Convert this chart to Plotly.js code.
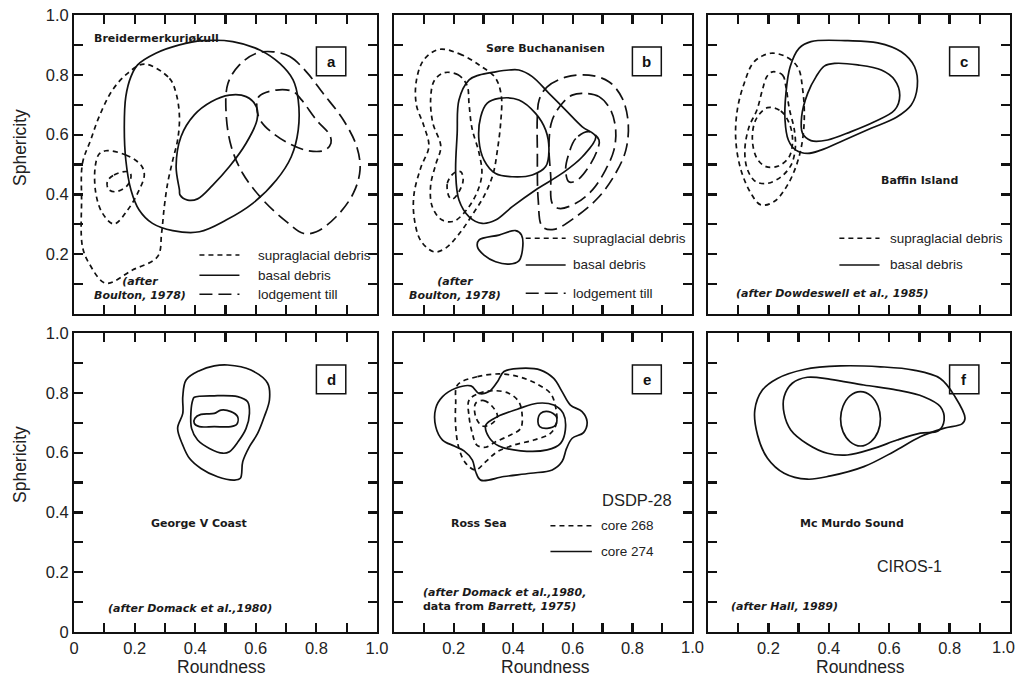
<!DOCTYPE html>
<html><head><meta charset="utf-8">
<script src="https://cdn.plot.ly/plotly-3.0.1.min.js"></script>
<style>html,body{margin:0;padding:0;background:#fff}#chart{width:1018px;height:678px}</style>
</head><body><div id="chart"></div>
<script>
// ---------- tick values and labels ----------
const tickVals = [0,0.1,0.2,0.3,0.4,0.5,0.6,0.7,0.8,0.9,1.0];
const yLabelsTop = ['','','0.2','','0.4','','0.6','','0.8','','1.0'];
const yLabelsBottom = ['0','','0.2','','0.4','','0.6','','0.8','','1.0'];
const xLabelsD = ['0','','0.2','','0.4','','0.6','','0.8','','1.0'];
const xLabelsEF = ['','','0.2','','0.4','','0.6','','0.8','',''];
const noLabels = ['','','','','','','','','','',''];

// ---------- panel a: Breidermerkurjokull ----------
const aSupraOuter = [[0.232,0.836],[0.315,0.788],[0.337,0.738],[0.348,0.660],[0.342,0.582],[0.326,0.515],[0.309,0.437],[0.298,0.359],[0.289,0.270],[0.276,0.192],[0.193,0.147],[0.105,0.103],[0.050,0.169],[0.028,0.225],[0.025,0.381],[0.028,0.504],[0.055,0.582],[0.083,0.660],[0.127,0.749],[0.177,0.805]];
const aSupraMid = [[0.105,0.546],[0.171,0.532],[0.221,0.498],[0.232,0.465],[0.210,0.404],[0.177,0.348],[0.132,0.301],[0.094,0.337],[0.072,0.404],[0.070,0.493],[0.083,0.535]];
const aSupraInner = [[0.110,0.443],[0.132,0.465],[0.177,0.476],[0.188,0.465],[0.177,0.431],[0.138,0.409],[0.114,0.417]];
const aBasalOuter = [[0.210,0.833],[0.270,0.872],[0.348,0.900],[0.425,0.914],[0.524,0.911],[0.613,0.883],[0.679,0.838],[0.723,0.783],[0.740,0.716],[0.740,0.615],[0.717,0.526],[0.668,0.448],[0.590,0.370],[0.502,0.314],[0.414,0.275],[0.326,0.279],[0.259,0.303],[0.215,0.348],[0.188,0.415],[0.171,0.515],[0.166,0.627],[0.171,0.727],[0.188,0.794]];
const aBasalInner = [[0.348,0.415],[0.337,0.493],[0.353,0.593],[0.397,0.666],[0.453,0.710],[0.513,0.732],[0.568,0.727],[0.602,0.693],[0.604,0.649],[0.568,0.571],[0.513,0.493],[0.458,0.431],[0.408,0.385],[0.375,0.381],[0.350,0.398]];
const aLodgeOuter = [[0.657,0.877],[0.712,0.861],[0.767,0.810],[0.822,0.738],[0.889,0.649],[0.933,0.560],[0.944,0.482],[0.922,0.404],[0.866,0.326],[0.800,0.275],[0.756,0.270],[0.701,0.309],[0.624,0.381],[0.557,0.470],[0.519,0.560],[0.502,0.671],[0.508,0.771],[0.546,0.833],[0.602,0.872]];
const aLodgeInner = [[0.610,0.727],[0.668,0.749],[0.723,0.744],[0.751,0.716],[0.800,0.649],[0.844,0.599],[0.848,0.571],[0.828,0.548],[0.773,0.546],[0.712,0.569],[0.657,0.604],[0.618,0.643],[0.604,0.682]];

// ---------- panel b: Sore Buchananisen ----------
const bSupraOuter = [[0.151,0.885],[0.220,0.870],[0.290,0.830],[0.340,0.790],[0.360,0.730],[0.358,0.640],[0.347,0.548],[0.333,0.470],[0.305,0.400],[0.265,0.335],[0.220,0.270],[0.173,0.220],[0.134,0.208],[0.090,0.245],[0.068,0.320],[0.067,0.400],[0.090,0.490],[0.117,0.560],[0.100,0.630],[0.075,0.700],[0.075,0.780],[0.100,0.850]];
const bSupraMid = [[0.168,0.807],[0.215,0.800],[0.245,0.765],[0.252,0.700],[0.262,0.620],[0.285,0.540],[0.295,0.470],[0.280,0.410],[0.245,0.350],[0.200,0.310],[0.160,0.315],[0.128,0.360],[0.123,0.430],[0.140,0.500],[0.157,0.560],[0.130,0.640],[0.123,0.720],[0.135,0.780]];
const bSupraInner = [[0.185,0.392],[0.179,0.437],[0.201,0.471],[0.224,0.476],[0.232,0.448],[0.218,0.409],[0.196,0.384]];
const bBasalOuter = [[0.386,0.816],[0.419,0.816],[0.464,0.794],[0.520,0.738],[0.576,0.682],[0.632,0.626],[0.677,0.593],[0.632,0.526],[0.565,0.471],[0.475,0.415],[0.397,0.359],[0.341,0.314],[0.296,0.303],[0.252,0.325],[0.218,0.381],[0.207,0.471],[0.212,0.604],[0.218,0.716],[0.252,0.783],[0.285,0.799],[0.341,0.810]];
const bBasalInner = [[0.352,0.721],[0.419,0.716],[0.475,0.671],[0.509,0.615],[0.520,0.548],[0.509,0.493],[0.464,0.465],[0.397,0.459],[0.341,0.470],[0.302,0.515],[0.285,0.582],[0.291,0.660],[0.313,0.705]];
const bBasalBlob = [[0.285,0.247],[0.352,0.264],[0.408,0.279],[0.428,0.264],[0.431,0.214],[0.419,0.178],[0.386,0.167],[0.341,0.175],[0.302,0.197],[0.280,0.225]];
const bLodgeOuter = [[0.487,0.716],[0.514,0.760],[0.576,0.792],[0.654,0.799],[0.721,0.777],[0.766,0.721],[0.786,0.638],[0.778,0.548],[0.744,0.471],[0.688,0.392],[0.610,0.325],[0.537,0.283],[0.498,0.292],[0.484,0.381],[0.481,0.548],[0.481,0.660]];
const bLodgeMid = [[0.632,0.738],[0.688,0.727],[0.727,0.682],[0.744,0.615],[0.738,0.548],[0.710,0.482],[0.666,0.415],[0.610,0.370],[0.554,0.353],[0.531,0.370],[0.526,0.459],[0.520,0.571],[0.531,0.649],[0.565,0.705],[0.598,0.732]];
const bLodgeInner = [[0.654,0.610],[0.610,0.587],[0.587,0.537],[0.576,0.482],[0.587,0.442],[0.615,0.448],[0.654,0.493],[0.682,0.548],[0.688,0.582]];

// ---------- panel c: Baffin Island ----------
const cBasalOuter = [[0.341,0.911],[0.463,0.914],[0.562,0.907],[0.640,0.877],[0.684,0.827],[0.693,0.760],[0.673,0.699],[0.624,0.658],[0.540,0.621],[0.452,0.582],[0.374,0.548],[0.330,0.537],[0.291,0.548],[0.266,0.582],[0.255,0.649],[0.258,0.738],[0.272,0.827],[0.302,0.889]];
const cBasalInner = [[0.385,0.829],[0.419,0.838],[0.496,0.833],[0.574,0.816],[0.618,0.783],[0.635,0.732],[0.618,0.682],[0.551,0.643],[0.474,0.610],[0.396,0.582],[0.341,0.580],[0.313,0.604],[0.310,0.660],[0.330,0.738],[0.358,0.794]];
const cSupraOuter = [[0.208,0.872],[0.263,0.858],[0.299,0.822],[0.313,0.755],[0.319,0.671],[0.313,0.582],[0.295,0.504],[0.263,0.431],[0.219,0.376],[0.175,0.365],[0.142,0.404],[0.109,0.482],[0.092,0.582],[0.097,0.682],[0.120,0.772],[0.153,0.844]];
const cSupraMid = [[0.214,0.810],[0.247,0.799],[0.258,0.760],[0.269,0.688],[0.286,0.615],[0.289,0.554],[0.275,0.498],[0.242,0.459],[0.197,0.437],[0.158,0.443],[0.131,0.482],[0.122,0.548],[0.136,0.626],[0.162,0.682],[0.180,0.749],[0.195,0.794]];
const cSupraInner = [[0.197,0.690],[0.241,0.679],[0.269,0.638],[0.280,0.582],[0.269,0.526],[0.233,0.495],[0.192,0.493],[0.162,0.521],[0.147,0.582],[0.158,0.649]];

// ---------- panel d: George V Coast ----------
const dOuter = [[0.507,0.893],[0.584,0.876],[0.639,0.832],[0.645,0.776],[0.628,0.720],[0.606,0.664],[0.579,0.620],[0.557,0.570],[0.549,0.514],[0.529,0.508],[0.474,0.519],[0.419,0.547],[0.381,0.581],[0.359,0.625],[0.342,0.681],[0.359,0.731],[0.359,0.787],[0.370,0.843],[0.414,0.874],[0.463,0.890]];
const dMid = [[0.397,0.785],[0.463,0.790],[0.540,0.787],[0.573,0.770],[0.579,0.731],[0.568,0.681],[0.542,0.637],[0.513,0.603],[0.491,0.598],[0.447,0.614],[0.408,0.642],[0.388,0.681],[0.386,0.737],[0.392,0.776]];
const dInner = [[0.399,0.715],[0.419,0.728],[0.463,0.731],[0.485,0.742],[0.518,0.737],[0.540,0.720],[0.538,0.696],[0.518,0.687],[0.463,0.687],[0.414,0.687],[0.397,0.698]];

// ---------- panel e: Ross Sea, DSDP-28 ----------
const e274Outer = [[0.369,0.871],[0.425,0.882],[0.492,0.876],[0.536,0.848],[0.564,0.804],[0.592,0.759],[0.631,0.737],[0.648,0.703],[0.636,0.667],[0.598,0.648],[0.579,0.614],[0.564,0.570],[0.531,0.542],[0.458,0.531],[0.369,0.520],[0.291,0.508],[0.274,0.536],[0.263,0.575],[0.235,0.606],[0.202,0.622],[0.163,0.642],[0.140,0.687],[0.140,0.748],[0.163,0.787],[0.207,0.815],[0.258,0.823],[0.285,0.798],[0.319,0.804],[0.347,0.837]];
const e274Mid = [[0.308,0.692],[0.347,0.720],[0.414,0.745],[0.481,0.765],[0.536,0.759],[0.568,0.731],[0.575,0.676],[0.559,0.631],[0.514,0.609],[0.425,0.606],[0.352,0.622],[0.319,0.651]];
const e274Inner = [[0.483,0.703],[0.492,0.731],[0.519,0.737],[0.545,0.720],[0.542,0.692],[0.514,0.681],[0.489,0.687]];
const e268Outer = [[0.213,0.826],[0.280,0.854],[0.358,0.863],[0.425,0.852],[0.481,0.829],[0.525,0.798],[0.542,0.754],[0.545,0.698],[0.525,0.664],[0.469,0.642],[0.402,0.625],[0.347,0.603],[0.308,0.570],[0.274,0.542],[0.241,0.564],[0.218,0.614],[0.207,0.687],[0.207,0.765]];
const e268Mid = [[0.252,0.776],[0.285,0.798],[0.335,0.807],[0.386,0.798],[0.419,0.770],[0.430,0.726],[0.425,0.681],[0.391,0.659],[0.341,0.636],[0.308,0.618],[0.278,0.625],[0.263,0.664],[0.252,0.720]];
const e268Inner = [[0.274,0.765],[0.302,0.774],[0.330,0.754],[0.347,0.722],[0.327,0.696],[0.297,0.689],[0.274,0.720]];

// ---------- panel f: Mc Murdo Sound, CIROS-1 ----------
const fOuter = [[0.155,0.742],[0.180,0.809],[0.230,0.848],[0.318,0.878],[0.439,0.890],[0.571,0.887],[0.681,0.876],[0.769,0.848],[0.818,0.787],[0.851,0.715],[0.841,0.696],[0.780,0.681],[0.703,0.653],[0.615,0.603],[0.516,0.553],[0.406,0.522],[0.329,0.511],[0.252,0.531],[0.197,0.581],[0.164,0.659]];
const fMid = [[0.252,0.787],[0.279,0.832],[0.329,0.852],[0.406,0.845],[0.516,0.826],[0.626,0.809],[0.714,0.787],[0.769,0.754],[0.782,0.709],[0.763,0.673],[0.703,0.665],[0.626,0.642],[0.549,0.614],[0.461,0.592],[0.395,0.598],[0.329,0.629],[0.274,0.676],[0.252,0.731]];
const fInner = [[0.505,0.804],[0.540,0.790],[0.563,0.755],[0.571,0.713],[0.563,0.670],[0.540,0.637],[0.505,0.622],[0.470,0.637],[0.447,0.670],[0.439,0.713],[0.447,0.755],[0.470,0.790]];

// ---------- styles ----------
const INK = '#111';
const SHORT = '5px,4px';
const LONG = '13px,6px';
const SOLID = 'solid';

const curves = [
  ['a', aSupraOuter, SHORT], ['a', aSupraMid, SHORT], ['a', aSupraInner, SHORT],
  ['a', aBasalOuter, SOLID], ['a', aBasalInner, SOLID],
  ['a', aLodgeOuter, LONG], ['a', aLodgeInner, LONG],
  ['b', bSupraOuter, SHORT], ['b', bSupraMid, SHORT], ['b', bSupraInner, SHORT],
  ['b', bBasalOuter, SOLID], ['b', bBasalInner, SOLID], ['b', bBasalBlob, SOLID],
  ['b', bLodgeOuter, LONG], ['b', bLodgeMid, LONG], ['b', bLodgeInner, LONG],
  ['c', cBasalOuter, SOLID], ['c', cBasalInner, SOLID],
  ['c', cSupraOuter, SHORT], ['c', cSupraMid, SHORT], ['c', cSupraInner, SHORT],
  ['d', dOuter, SOLID], ['d', dMid, SOLID], ['d', dInner, SOLID],
  ['e', e274Outer, SOLID], ['e', e274Mid, SOLID], ['e', e274Inner, SOLID],
  ['e', e268Outer, SHORT], ['e', e268Mid, SHORT], ['e', e268Inner, SHORT],
  ['f', fOuter, SOLID], ['f', fMid, SOLID], ['f', fInner, SOLID]
];

const axisIds = {a:['x','y'], b:['x2','y2'], c:['x3','y3'], d:['x4','y4'], e:['x5','y5'], f:['x6','y6']};

const traces = curves.map(([p, pts, dash]) => ({
  type: 'scatter', mode: 'lines',
  x: pts.map(q => q[0]).concat([pts[0][0]]),
  y: pts.map(q => q[1]).concat([pts[0][1]]),
  xaxis: axisIds[p][0], yaxis: axisIds[p][1],
  line: {shape: 'spline', smoothing: 1, width: 1.7, color: INK, dash: dash},
  hoverinfo: 'skip', showlegend: false
}));

// ---------- layout (plot area spans x 74..1010 px, y 15..632 px) ----------
const W = 1018, H = 678;
const L0 = 74, R0 = 1010, T0 = 15, B0 = 632;
const PW = R0 - L0, PH = B0 - T0;
const px2x = px => (px - L0) / PW;
const py2y = py => (B0 - py) / PH;
const colPx = [[74,377],[394,692],[708,1010]];
const rowPx = [[15,314],[333,632]];
const dx = c => [px2x(colPx[c][0]), px2x(colPx[c][1])];
const dy = r => [py2y(rowPx[r][1]), py2y(rowPx[r][0])];

const tickFont = {family: 'Liberation Sans, Arial, sans-serif', size: 16.5, color: '#222'};
function ax(domain, labels, anchor) {
  return {
    domain: domain, range: [0, 1], anchor: anchor,
    showgrid: false, zeroline: false, showline: true, linecolor: INK, linewidth: 2,
    mirror: 'allticks', ticks: 'inside', ticklen: 9, tickwidth: 2.2, tickcolor: INK,
    tickmode: 'array', tickvals: tickVals, ticktext: labels || noLabels,
    showticklabels: true, tickfont: tickFont
  };
}

const layout = {
  width: W, height: H, margin: {l: L0, r: W - R0, t: T0, b: H - B0},
  showlegend: false,
  xaxis:  ax(dx(0), null, 'y'),  yaxis:  ax(dy(0), yLabelsTop, 'x'),
  xaxis2: ax(dx(1), null, 'y2'), yaxis2: ax(dy(0), null, 'x2'),
  xaxis3: ax(dx(2), null, 'y3'), yaxis3: ax(dy(0), null, 'x3'),
  xaxis4: ax(dx(0), xLabelsD, 'y4'), yaxis4: ax(dy(1), yLabelsBottom, 'x4'),
  xaxis5: ax(dx(1), xLabelsEF, 'y5'), yaxis5: ax(dy(1), null, 'x5'),
  xaxis6: ax(dx(2), xLabelsEF, 'y6'), yaxis6: ax(dy(1), null, 'x6'),
  shapes: [], annotations: []
};

const boldFont = {family: 'DejaVu Sans, sans-serif', size: 11, color: '#1a1a1a'};
const legFont = {family: 'Liberation Sans, Arial, sans-serif', size: 13.5, color: '#222'};

function note(p, x, y, text, font, xanchor, extra) {
  layout.annotations.push(Object.assign({
    xref: axisIds[p][0], yref: axisIds[p][1], x: x, y: y, text: text,
    showarrow: false, font: font, xanchor: xanchor || 'center', yanchor: 'middle'
  }, extra || {}));
}
function legendLine(p, x0, x1, y, dash) {
  layout.shapes.push({type: 'line', xref: axisIds[p][0], yref: axisIds[p][1],
    x0: x0, x1: x1, y0: y, y1: y, line: {color: INK, width: 1.5, dash: dash}});
}
function letterBox(p, letter) {
  layout.shapes.push({type: 'rect', xref: axisIds[p][0], yref: axisIds[p][1],
    x0: 0.80, x1: 0.897, y0: 0.797, y1: 0.893, line: {color: INK, width: 1.5}});
  note(p, 0.8485, 0.845, '<b>' + letter + '</b>', {family: 'Liberation Sans, Arial, sans-serif', size: 15, color: '#111'});
}

// panel a
note('a', 0.060, 0.923, '<b>Breidermerkurjøkull</b>', boldFont, 'left');
note('a', 0.218, 0.085, '<b><i>(after<br>Boulton, 1978)</i></b>', boldFont, 'center');
legendLine('a', 0.414, 0.546, 0.197, SHORT);
legendLine('a', 0.414, 0.546, 0.130, SOLID);
legendLine('a', 0.414, 0.546, 0.066, LONG);
note('a', 0.601, 0.197, 'supraglacial debris', legFont, 'left');
note('a', 0.601, 0.130, 'basal debris', legFont, 'left');
note('a', 0.601, 0.066, 'lodgement till', legFont, 'left');
letterBox('a', 'a');

// panel b
note('b', 0.509, 0.889, '<b>Søre Buchananisen</b>', boldFont, 'center');
note('b', 0.205, 0.086, '<b><i>(after<br>Boulton, 1978)</i></b>', boldFont, 'center');
legendLine('b', 0.442, 0.576, 0.253, SHORT);
legendLine('b', 0.442, 0.576, 0.164, SOLID);
legendLine('b', 0.442, 0.576, 0.069, LONG);
note('b', 0.593, 0.253, 'supraglacial debris', legFont, 'left');
note('b', 0.593, 0.164, 'basal debris', legFont, 'left');
note('b', 0.593, 0.069, 'lodgement till', legFont, 'left');
letterBox('b', 'b');

// panel c
note('c', 0.701, 0.448, '<b>Baffin Island</b>', boldFont, 'center');
note('c', 0.086, 0.069, '<b><i>(after Dowdeswell et al., 1985)</i></b>', boldFont, 'left');
legendLine('c', 0.435, 0.568, 0.253, SHORT);
legendLine('c', 0.435, 0.568, 0.164, SOLID);
note('c', 0.596, 0.253, 'supraglacial debris', legFont, 'left');
note('c', 0.596, 0.164, 'basal debris', legFont, 'left');
letterBox('c', 'c');

// panel d
note('d', 0.414, 0.364, '<b>George V Coast</b>', boldFont, 'center');
note('d', 0.106, 0.079, '<b><i>(after Domack et al.,1980)</i></b>', boldFont, 'left');
letterBox('d', 'd');

// panel e
note('e', 0.285, 0.364, '<b>Ross Sea</b>', boldFont, 'center');
note('e', 0.090, 0.110, '<b><i>(after Domack et al.,1980,</i><br>data from <i>Barrett, 1975)</i></b>', boldFont, 'left', {align: 'left'});
note('e', 0.692, 0.441, 'DSDP-28', {family: 'Liberation Sans, Arial, sans-serif', size: 16.5, color: '#222'}, 'left');
legendLine('e', 0.525, 0.664, 0.355, SHORT);
legendLine('e', 0.525, 0.664, 0.269, SOLID);
note('e', 0.687, 0.355, 'core 268', legFont, 'left');
note('e', 0.687, 0.269, 'core 274', legFont, 'left');
letterBox('e', 'e');

// panel f
note('f', 0.478, 0.364, '<b>Mc Murdo Sound</b>', boldFont, 'center');
note('f', 0.070, 0.085, '<b><i>(after Hall, 1989)</i></b>', boldFont, 'left');
note('f', 0.667, 0.218, 'CIROS-1', {family: 'Liberation Sans, Arial, sans-serif', size: 16, color: '#222'}, 'center');
letterBox('f', 'f');

// last x tick labels of panels e and f (the f one nudged to stay inside the page)
layout.annotations.push({xref: 'x5', yref: 'paper', x: tickVals[10], y: py2y(647),
  text: xLabelsD[10], showarrow: false, font: tickFont, xanchor: 'center', yanchor: 'middle'});
layout.annotations.push({xref: 'x6', yref: 'paper', x: 0.98, y: py2y(647),
  text: xLabelsD[10], showarrow: false, font: tickFont, xanchor: 'center', yanchor: 'middle'});

// axis titles
const titleFont = {family: 'Liberation Sans, Arial, sans-serif', size: 17.5, color: '#222'};
[148, 465].forEach(py => layout.annotations.push({
  xref: 'paper', yref: 'paper', x: px2x(20), y: py2y(py), text: 'Sphericity', textangle: -90,
  showarrow: false, font: titleFont, xanchor: 'center', yanchor: 'middle'}));
[221, 545.7, 860.8].forEach(px => layout.annotations.push({
  xref: 'paper', yref: 'paper', x: px2x(px), y: py2y(667), text: 'Roundness',
  showarrow: false, font: titleFont, xanchor: 'center', yanchor: 'middle'}));

Plotly.newPlot('chart', traces, layout, {staticPlot: true});
</script></body></html>
